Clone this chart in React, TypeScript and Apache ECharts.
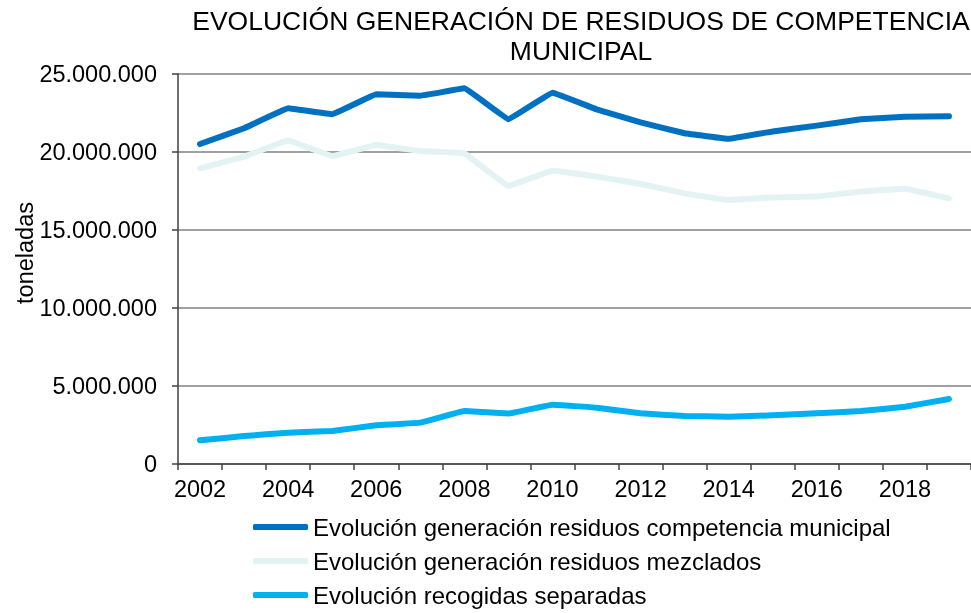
import React, { useEffect, useRef } from "react";
import * as echarts from "echarts";

const years = ["2002", "2003", "2004", "2005", "2006", "2007", "2008", "2009", "2010", "2011", "2012", "2013", "2014", "2015", "2016", "2017", "2018", "2019"];
const municipal = [20510000, 21520000, 22800000, 22420000, 23700000, 23610000, 24080000, 22100000, 23800000, 22740000, 21900000, 21200000, 20850000, 21320000, 21690000, 22100000, 22260000, 22290000];
const mezclados = [18950000, 19700000, 20730000, 19740000, 20450000, 20060000, 19910000, 17820000, 18800000, 18420000, 17950000, 17350000, 16920000, 17090000, 17140000, 17460000, 17650000, 17030000];
const separadas = [1520000, 1790000, 2010000, 2120000, 2480000, 2650000, 3400000, 3230000, 3800000, 3610000, 3250000, 3080000, 3030000, 3120000, 3250000, 3400000, 3670000, 4170000];
const seriesNames = [
  "Evolución generación residuos competencia municipal",
  "Evolución generación residuos mezclados",
  "Evolución recogidas separadas",
];
const titleText = "EVOLUCIÓN GENERACIÓN DE RESIDUOS DE COMPETENCIA\nMUNICIPAL";
const yName = "toneladas";

const FONT = "'Liberation Sans', Arial, sans-serif";

function fmt(v: number): string {
  const s = Math.round(v).toString();
  return s.replace(/\B(?=(\d{3})+(?!\d))/g, ".");
}

export default function App() {
  const ref = useRef<HTMLDivElement>(null);
  useEffect(() => {
    if (!ref.current) return;
    const chart = echarts.init(ref.current, null, { renderer: "svg" });
    const mk = (name: string, data: number[], color: string) => ({
      name,
      type: "line",
      data,
      symbol: "none",
      smooth: 0.05,
      lineStyle: { color, width: 6, cap: "round", join: "round" },
      itemStyle: { color },
    });
    chart.setOption({
      animation: false,
      textStyle: { fontFamily: FONT },
      title: {
        text: titleText,
        left: 576,
        textAlign: "center",
        top: 1,
        textStyle: { fontFamily: FONT, fontSize: 26.5, fontWeight: "normal", color: "#000", lineHeight: 30 },
      },
      grid: { left: 178, right: -6, top: 74, bottom: 149, containLabel: false },
      xAxis: {
        type: "category",
        data: years,
        boundaryGap: true,
        axisLine: { lineStyle: { color: "#404040", width: 1.5 } },
        axisTick: { show: true, interval: 0, length: 6, lineStyle: { color: "#404040", width: 1.5 } },
        axisLabel: { interval: 1, margin: 13, fontSize: 23.5, color: "#000", fontFamily: FONT },
        splitLine: { show: false },
      },
      yAxis: {
        type: "value",
        min: 0,
        max: 25000000,
        interval: 5000000,
        axisLine: { show: true, lineStyle: { color: "#404040", width: 1.5 } },
        axisTick: { show: true, length: 6, lineStyle: { color: "#404040", width: 1.5 } },
        axisLabel: { margin: 21, fontSize: 23.5, color: "#000", fontFamily: FONT, formatter: (v: number) => fmt(v) },
        splitLine: { show: true, lineStyle: { color: "#808080", width: 1.5 } },
      },
      legend: {
        orient: "vertical",
        left: 253,
        top: 515,
        padding: 0,
        height: 96,
        itemWidth: 55,
        itemHeight: 6,
        itemGap: 10,
        icon: "roundRect",
        textStyle: { fontSize: 24, lineHeight: 24, color: "#000", fontFamily: FONT },
        data: seriesNames,
      },
      graphic: [
        {
          type: "text",
          x: 25,
          y: 253,
          rotation: Math.PI / 2,
          style: {
            text: yName,
            fontSize: 23.5,
            fontFamily: FONT,
            fill: "#000",
            textAlign: "center",
            textVerticalAlign: "middle",
          },
        },
      ],
      series: [
        mk(seriesNames[0], municipal, "#0070C0"),
        mk(seriesNames[1], mezclados, "#E3F3F3"),
        mk(seriesNames[2], separadas, "#00B0F0"),
      ],
    });
    return () => chart.dispose();
  }, []);
  return <div ref={ref} style={{ position: "fixed", left: 0, top: 0, width: 971, height: 613 }} />;
}
